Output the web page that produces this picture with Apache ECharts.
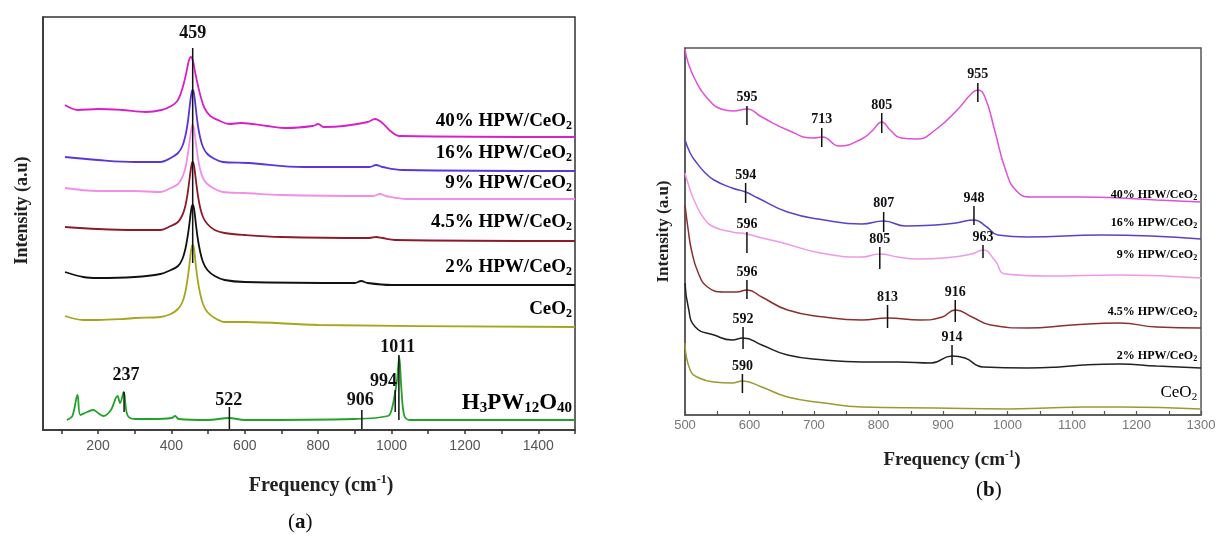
<!DOCTYPE html>
<html><head><meta charset="utf-8">
<script src="https://cdn.jsdelivr.net/npm/echarts@6/dist/echarts.min.js"></script>
<style>html,body{margin:0;padding:0;background:#fff}#c{width:1219px;height:537px}</style>
</head><body><div id="c"></div>
<script>
// ---------- Panel (a): Raman spectra, frequency (cm-1) vs intensity (a.u., offset) ----------
const a40 = [[110,325],[145,320],[200,321],[265,320],[330,318],[373,320],[400,324],[416,329],[426,337],[434,347],[441,358],[446,367],[450,372],[453,373],[456,372],[460,367],[465,357],[472,345],[480,333],[490,322],[506,314],[533,309],[557,306],[590,307],[660,304],[715,302],[785,304],[800,306],[815,303],[870,304],[935,308],[955,311],[975,307],[997,299],[1022,294],[1500,293]];
const a16 = [[110,273],[200,270],[300,268],[370,268],[398,272],[418,277],[430,284],[438,294],[444,306],[449,321],[453,333],[456,339],[458,340],[460,339],[463,333],[467,320],[472,305],[478,293],[486,283],[498,276],[518,271],[540,268],[610,267],[760,263],[940,263],[958,265],[975,263],[1030,260],[1500,259]];
const a9 = [[110,242],[200,239],[300,239],[370,238],[398,242],[418,246],[430,253],[438,262],[444,274],[449,287],[453,298],[456,304],[458,305],[460,304],[463,298],[467,286],[472,273],[478,261],[486,252],[498,246],[518,241],[540,238],[600,237],[700,235],[950,234],[968,236],[985,234],[1040,231],[1500,231]];
const a45 = [[110,203],[200,201],[300,200],[370,200],[398,204],[418,208],[430,215],[438,224],[444,236],[449,250],[453,261],[456,267],[458,268],[460,267],[463,261],[467,249],[472,235],[478,223],[486,213],[498,206],[518,200],[545,197],[600,195],[700,193],[940,192],[958,193],[975,192],[1010,190],[1500,189]];
const a2 = [[110,158],[160,153],[200,152],[300,153],[370,156],[398,160],[418,164],[430,171],[438,181],[444,193],[449,206],[453,218],[456,224],[458,225],[460,224],[463,218],[467,205],[472,191],[478,179],[486,168],[498,160],[518,154],[545,150],[600,148],[900,147],[917,149],[935,147],[1000,145],[1500,145]];
const aCe = [[110,114],[160,110],[200,110],[270,111],[300,112],[370,113],[398,116],[418,121],[430,128],[438,138],[444,151],[449,165],[453,178],[456,184],[458,185],[460,184],[463,177],[467,163],[472,149],[478,137],[486,126],[498,118],[518,112],[545,108],[600,108],[800,105],[1500,103]];
const aHPW = [[115,10],[130,14],[144,35],[152,15],[170,18],[187,20],[200,17],[215,14],[235,20],[253,34],[260,27],[270,38],[280,15],[300,11],[350,11],[400,12],[410,14],[420,11],[500,10],[557,12],[600,10],[900,11],[990,14],[1000,20],[1010,38],[1015,50],[1021,73],[1027,40],[1035,14],[1050,10],[1500,10]];

const ticksA = [100,200,300,400,500,600,700,800,900,1000,1100,1200,1300,1400,1500];
const tickLabelsA = [200,400,600,800,1000,1200,1400];

const seriesA = [a40, a16, a9, a45, a2, aCe, aHPW];
const colorsA = ['#d820c8','#5a35d8','#f28ee8','#8b1a2a','#111111','#a5a51e','#22a22a'];
const labelColorsA = ['#d81fd0','#5532d6','#f2a0ea','#8b1025','#111111','#a8a820','#1fa030'];
const labelsA = ['{m|40% HPW/CeO}{s|2}','{m|16% HPW/CeO}{s|2}','{m|9% HPW/CeO}{s|2}','{m|4.5% HPW/CeO}{s|2}','{m|2% HPW/CeO}{s|2}','{m|CeO}{s|2}','{g|H}{gs|3}{g|PW}{gs|12}{g|O}{gs|40}'];
const labA_x = [1492,1492,1492,1492,1492,1492,1492];
const labA_y = [309,277,247,208,163,121,27];

const markA_label = ['459','237','522','906','994','1011'];
const markA_x = [458,271,558,919,1010,1020];
const markA_y0 = [167,18,1,1,18,10];
const markA_y1 = [382,38,23,20,40,75];
const markA_tx = [458,276,556,915,978,1017];
const markA_ty = [397,55,30,30,49,83];

// ---------- Panel (b) ----------
const b40 = [[500,366],[505,352],[516,335],[533,318],[556,306],[575,304],[596,306],[619,298],[659,285],[699,277],[713,278],[739,269],[774,276],[790,284],[805,293],[818,285],[835,277],[859,276],[888,285],[922,305],[945,322],[954,325],[965,318],[980,285],[997,245],[1014,224],[1037,218],[1117,218],[1174,217],[1231,215],[1300,213]];
const b16 = [[500,275],[508,262],[516,254],[530,243],[545,235],[573,227],[594,223],[613,217],[659,203],[716,195],[774,191],[808,194],[842,189],[888,190],[920,192],[948,195],[968,188],[985,180],[1031,178],[1145,180],[1300,176]];
const b9 = [[500,242],[508,225],[516,212],[530,196],[545,188],[573,183],[596,181],[620,177],[652,172],[710,162],[774,158],[802,161],[830,158],[859,156],[917,158],[945,161],[962,165],[980,155],[997,141],[1060,139],[1174,140],[1300,137]];
const b45 = [[500,210],[505,185],[510,165],[520,143],[535,128],[560,123],[580,123],[596,125],[619,118],[659,105],[716,98],[774,95],[814,97],[865,95],[899,98],[919,105],[945,98],[974,90],[1031,87],[1100,90],[1174,92],[1231,88],[1300,87]];
const b2 = [[500,132],[505,108],[516,88],[545,80],[573,75],[590,77],[619,70],[659,60],[716,55],[774,53],[831,53],[882,52],[914,59],[934,57],[962,48],[1031,47],[1080,48],[1117,50],[1174,51],[1231,49],[1300,47]];
const bCe = [[500,72],[508,45],[522,37],[545,33],[573,32],[589,34],[619,28],[659,18],[716,12],[774,8],[888,7],[1002,6],[1060,7],[1117,8],[1174,8],[1300,6]];

const seriesB = [b40, b16, b9, b45, b2, bCe];
const colorsB = ['#e050d8','#5545c8','#ee99e6','#8b3030','#222222','#9a9a30'];
const labelColorsB = ['#e040d0','#5040d0','#f0a8ea','#a03040','#333333','#c0c050'];
const labelsB = ['{m|40% HPW/CeO}{s|2}','{m|16% HPW/CeO}{s|2}','{m|9% HPW/CeO}{s|2}','{m|4.5% HPW/CeO}{s|2}','{m|2% HPW/CeO}{s|2}','{c|CeO}{cs|2}'];
const labB_x = [1294,1294,1294,1294,1294,1294];
const labB_y = [220,192,160,103,59,22];

const markB_label = ['595','713','805','955','594','807','948','596','805','963','596','813','916','592','914','590'];
const markB_x = [596,712,805,954,594,808,948,596,802,962,596,814,919,590,914,589];
const markB_y0 = [290,268,282,313,212,183,190,162,146,157,116,87,93,66,50,22];
const markB_y1 = [309,287,302,332,232,203,209,183,168,170,135,110,115,88,70,41];
const markB_ty = [318,296,310,341,240,212,217,191,176,178,143,118,123,96,78,49];

// ---------- chart ----------
const SERIF = '"Liberation Serif","Times New Roman",serif';
const SANS = '"Liberation Sans",Arial,sans-serif';
const chart = echarts.init(document.getElementById('c'), null, {renderer:'canvas'});

function markerSeries(gi, xs, y0s, y1s, txs, tys, labels, fontSize){
  const data = xs.map((x,i)=>[x, y0s[i], y1s[i], txs[i], tys[i]]);
  return {
    type:'custom', xAxisIndex:gi, yAxisIndex:gi, clip:false, silent:true, z:10,
    data,
    renderItem(params, api){
      const p0 = api.coord([api.value(0), api.value(1)]);
      const p1 = api.coord([api.value(0), api.value(2)]);
      const pt = api.coord([api.value(3), api.value(4)]);
      return {type:'group', children:[
        {type:'line', shape:{x1:p0[0],y1:p0[1],x2:p1[0],y2:p1[1]}, style:{stroke:'#111', lineWidth:1.5}},
        {type:'text', style:{text:labels[params.dataIndex], x:pt[0], y:pt[1], align:'center', verticalAlign:'middle',
          font:'bold '+fontSize+'px '+SERIF, fill:'#111'}}
      ]};
    }
  };
}

function labelSeries(gi, xs, ys, labels, colors, rich){
  const data = xs.map((x,i)=>[x, ys[i]]);
  return {
    type:'custom', xAxisIndex:gi, yAxisIndex:gi, clip:false, silent:true, z:11,
    data,
    renderItem(params, api){
      const p = api.coord([api.value(0), api.value(1)]);
      const c = colors[params.dataIndex];
      const r = {};
      for (const k in rich) r[k] = Object.assign({}, rich[k], {color:c});
      return {type:'text', style:{text:labels[params.dataIndex], rich:r, x:p[0], y:p[1], align:'right', verticalAlign:'middle'}};
    }
  };
}

const richA = {
  m:{fontFamily:SERIF, fontWeight:'bold', fontSize:19, lineHeight:22, verticalAlign:'middle'},
  s:{fontFamily:SERIF, fontWeight:'bold', fontSize:12, lineHeight:12, verticalAlign:'bottom'},
  g:{fontFamily:SERIF, fontWeight:'bold', fontSize:23, lineHeight:26, verticalAlign:'middle'},
  gs:{fontFamily:SERIF, fontWeight:'bold', fontSize:15, lineHeight:14, verticalAlign:'bottom'}
};
const richB = {
  m:{fontFamily:SERIF, fontWeight:'bold', fontSize:12, lineHeight:14, verticalAlign:'middle'},
  s:{fontFamily:SERIF, fontWeight:'bold', fontSize:8, lineHeight:8, verticalAlign:'bottom'},
  c:{fontFamily:SERIF, fontSize:17, lineHeight:20, verticalAlign:'middle'},
  cs:{fontFamily:SERIF, fontSize:11, lineHeight:11, verticalAlign:'bottom'}
};

const freqName = '{m|Frequency (cm}{sup|-1}{m|)}';
function freqNameStyle(size, padLeft){
  return {padding:[0,0,0,padLeft], rich:{
    m:{fontFamily:SERIF, fontWeight:'bold', fontSize:size, color:'#222', lineHeight:size+4, verticalAlign:'middle'},
    sup:{fontFamily:SERIF, fontWeight:'bold', fontSize:Math.round(size*0.6), color:'#222', lineHeight:12, verticalAlign:'top'}
  }};
}

const lineSeries = [];
seriesA.forEach((d,i)=>lineSeries.push({type:'line', xAxisIndex:0, yAxisIndex:0, data:d, showSymbol:false, smooth:0.35,
  lineStyle:{color:colorsA[i], width:1.8}, silent:true}));
seriesB.forEach((d,i)=>lineSeries.push({type:'line', xAxisIndex:1, yAxisIndex:1, data:d, showSymbol:false, smooth:0.5,
  lineStyle:{color:colorsB[i], width:1.5}, silent:true}));

const plain = v => String(v);

chart.setOption({
  animation:false,
  backgroundColor:'#fff',
  grid:[
    {left:43, top:17, width:532, height:413, show:true, borderColor:'#333', borderWidth:1.5},
    {left:685, top:48, width:516, height:367, show:true, borderColor:'#555', borderWidth:1.5}
  ],
  xAxis:[
    {gridIndex:0, type:'value', min:50, max:1500,
     axisLine:{lineStyle:{color:'#333', width:1.5}},
     axisTick:{show:true, length:4, customValues:ticksA, lineStyle:{color:'#333', width:1.5}},
     axisLabel:{customValues:tickLabelsA, formatter:plain, color:'#555', fontSize:14, fontFamily:SANS, margin:9},
     splitLine:{show:false},
     name:freqName, nameLocation:'middle', nameGap:44, nameTextStyle:freqNameStyle(20, 24)},
    {gridIndex:1, type:'value', min:500, max:1300, interval:100,
     axisLine:{lineStyle:{color:'#555', width:1.5}},
     axisTick:{show:true, inside:true, length:4, lineStyle:{color:'#555', width:1.2}},
     minorTick:{show:true, splitNumber:2, length:4, lineStyle:{color:'#555', width:1.2}},
     axisLabel:{formatter:plain, color:'#777', fontSize:13, fontFamily:SANS, margin:4},
     splitLine:{show:false},
     name:freqName, nameLocation:'middle', nameGap:34, nameTextStyle:freqNameStyle(19, 18)}
  ],
  yAxis:[
    {gridIndex:0, type:'value', min:0, max:413,
     axisLine:{show:true, lineStyle:{color:'#333', width:1.5}}, axisTick:{show:false}, axisLabel:{show:false}, splitLine:{show:false},
     name:'Intensity (a.u)', nameLocation:'middle', nameGap:12,
     nameTextStyle:{fontFamily:SERIF, fontWeight:'bold', fontSize:18, color:'#222', padding:[0,0,0,26]}},
    {gridIndex:1, type:'value', min:0, max:367,
     axisLine:{show:true, lineStyle:{color:'#555', width:1.5}}, axisTick:{show:false}, axisLabel:{show:false}, splitLine:{show:false},
     name:'Intensity (a.u)', nameLocation:'middle', nameGap:13,
     nameTextStyle:{fontFamily:SERIF, fontWeight:'bold', fontSize:17, color:'#222'}}
  ],
  series: lineSeries.concat([
    markerSeries(0, markA_x, markA_y0, markA_y1, markA_tx, markA_ty, markA_label, 18),
    markerSeries(1, markB_x, markB_y0, markB_y1, markB_x, markB_ty, markB_label, 14),
    labelSeries(0, labA_x, labA_y, labelsA, labelColorsA, richA),
    labelSeries(1, labB_x, labB_y, labelsB, labelColorsB, richB)
  ]),
  graphic:[
    {type:'text', left:288, top:512, style:{text:'{p|(}{b|a}{p|)}', rich:{
      p:{fontFamily:SERIF, fontSize:21, fill:'#111'}, b:{fontFamily:SERIF, fontSize:21, fontWeight:'bold', fill:'#111'}}}},
    {type:'text', left:976, top:480, style:{text:'{p|(}{b|b}{p|)}', rich:{
      p:{fontFamily:SERIF, fontSize:21, fill:'#111'}, b:{fontFamily:SERIF, fontSize:21, fontWeight:'bold', fill:'#111'}}}}
  ]
});
</script></body></html>
